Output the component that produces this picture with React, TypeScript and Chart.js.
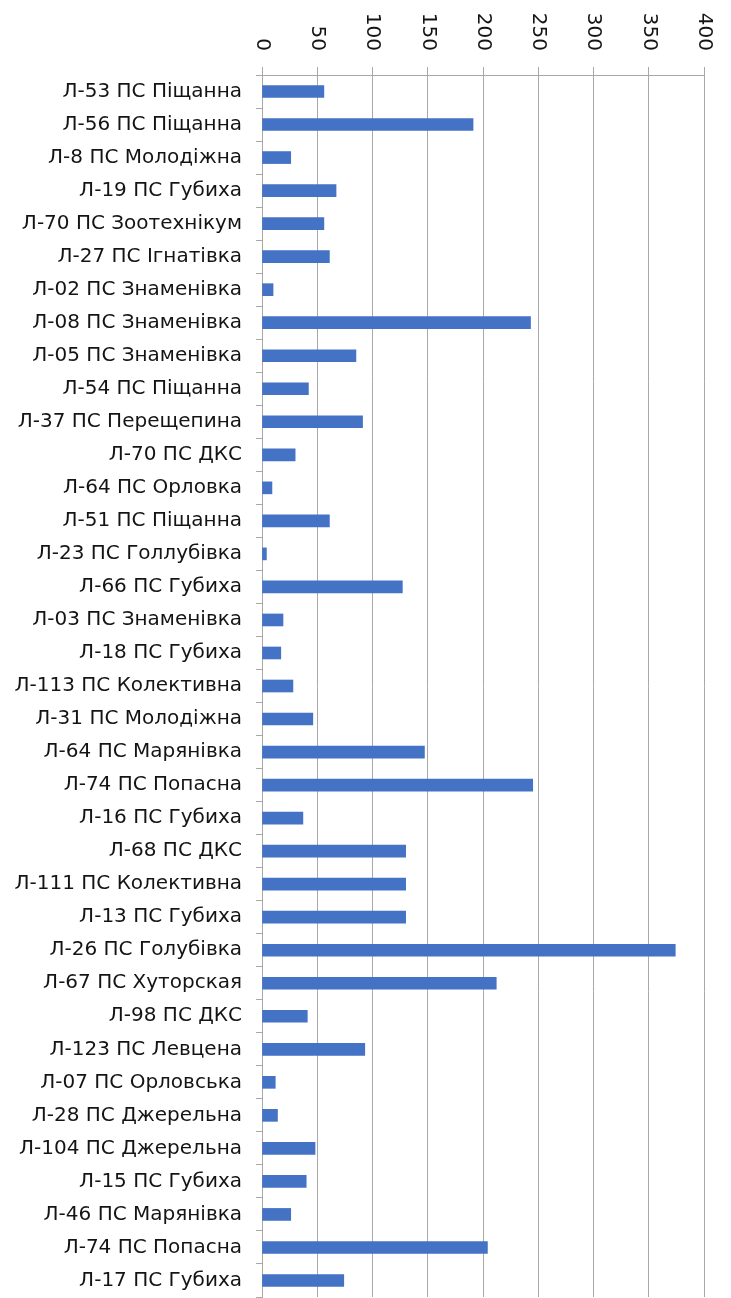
import React, { useEffect, useRef } from "react";
import { Chart, registerables } from "chart.js";

Chart.register(...registerables);

const categories: string[] = [
  "Л-53 ПС Піщанна",
  "Л-56 ПС Піщанна",
  "Л-8 ПС Молодіжна",
  "Л-19 ПС Губиха",
  "Л-70 ПС Зоотехнікум",
  "Л-27 ПС Ігнатівка",
  "Л-02 ПС Знаменівка",
  "Л-08 ПС Знаменівка",
  "Л-05 ПС Знаменівка",
  "Л-54 ПС Піщанна",
  "Л-37 ПС Перещепина",
  "Л-70 ПС ДКС",
  "Л-64 ПС Орловка",
  "Л-51 ПС Піщанна",
  "Л-23 ПС Голлубівка",
  "Л-66 ПС Губиха",
  "Л-03 ПС Знаменівка",
  "Л-18 ПС Губиха",
  "Л-113 ПС Колективна",
  "Л-31 ПС Молодіжна",
  "Л-64 ПС Марянівка",
  "Л-74 ПС Попасна",
  "Л-16 ПС Губиха",
  "Л-68 ПС ДКС",
  "Л-111 ПС Колективна",
  "Л-13 ПС Губиха",
  "Л-26 ПС Голубівка",
  "Л-67 ПС Хуторская",
  "Л-98 ПС ДКС",
  "Л-123 ПС Левцена",
  "Л-07 ПС Орловська",
  "Л-28 ПС Джерельна",
  "Л-104 ПС Джерельна",
  "Л-15 ПС Губиха",
  "Л-46 ПС Марянівка",
  "Л-74 ПС Попасна",
  "Л-17 ПС Губиха",
];

const values: number[] = [
  56, 191, 26, 67, 56, 61, 10, 243, 85, 42, 91, 30, 9, 61, 4, 127, 19, 17, 28,
  46, 147, 245, 37, 130, 130, 130, 374, 212, 41, 93, 12, 14, 48, 40, 26, 204,
  74,
];

const xMin = 0;
const xMax = 400;
const xStep = 50;

const FONT = "'DejaVu Sans', 'Noto Sans', sans-serif";
const TEXT_COLOR = "#141414";
const GRID_COLOR = "#a8a8a8";

const rotatedTopTicks = {
  id: "rotatedTopTicks",
  afterDraw(chart: any) {
    const s = chart.scales.x;
    const ctx = chart.ctx;
    ctx.save();
    ctx.font = `20px ${FONT}`;
    ctx.fillStyle = TEXT_COLOR;
    ctx.textAlign = "right";
    ctx.textBaseline = "middle";
    s.ticks.forEach((t: any) => {
      const x = s.getPixelForValue(t.value);
      ctx.save();
      ctx.translate(x, s.bottom - 24);
      ctx.rotate(Math.PI / 2);
      ctx.fillText(String(t.value), 0, 0);
      ctx.restore();
    });
    ctx.restore();
  },
};

export default function App() {
  const ref = useRef<HTMLCanvasElement | null>(null);
  useEffect(() => {
    if (!ref.current) return;
    const chart = new Chart(ref.current, {
      type: "bar",
      data: {
        labels: categories,
        datasets: [
          {
            data: values,
            backgroundColor: "#4472C4",
            borderWidth: 0,
            barThickness: 12,
          },
        ],
      },
      options: {
        indexAxis: "y",
        animation: false,
        responsive: true,
        maintainAspectRatio: false,
        layout: { padding: { top: 67, right: 27, bottom: 1, left: 0 } },
        plugins: {
          legend: { display: false },
          tooltip: { enabled: false },
        },
        scales: {
          x: {
            position: "top",
            min: xMin,
            max: xMax,
            afterFit(scale: any) {
              scale.height = 8;
              scale.paddingLeft = 0;
              scale.paddingRight = 0;
            },
            ticks: { display: false, stepSize: xStep },
            grid: {
              color: GRID_COLOR,
              lineWidth: 1,
              tickLength: 8,
              drawTicks: true,
            },
            border: { display: true, color: GRID_COLOR },
          },
          y: {
            position: "left",
            afterFit(scale: any) {
              scale.width = 262;
              scale.paddingTop = 0;
              scale.paddingBottom = 0;
            },
            ticks: {
              color: TEXT_COLOR,
              font: { family: FONT, size: 20 },
              padding: 14,
              autoSkip: false,
            },
            grid: {
              display: true,
              drawOnChartArea: false,
              offset: true,
              tickLength: 6,
              color: GRID_COLOR,
            },
            border: { display: true, color: GRID_COLOR },
          },
        },
      },
      plugins: [rotatedTopTicks],
    });
    return () => chart.destroy();
  }, []);
  return (
    <div
      style={{
        position: "absolute",
        top: 0,
        left: 0,
        width: 731,
        height: 1298,
        background: "#ffffff",
      }}
    >
      <canvas ref={ref} />
    </div>
  );
}
